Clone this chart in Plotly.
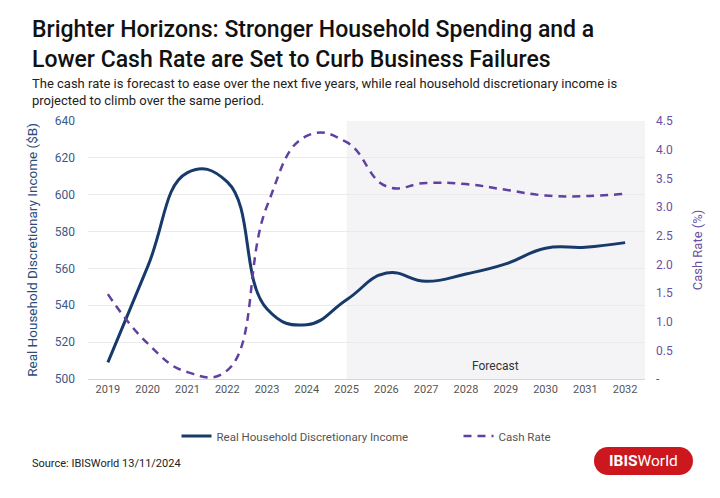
import plotly.graph_objects as go

years = [2019, 2020, 2021, 2022, 2023, 2024, 2025, 2026, 2027, 2028, 2029, 2030, 2031, 2032]
income = [509, 561, 612, 607, 538, 529.5, 543, 557.5, 553, 557, 562.5, 571, 571.5, 574]
cash_rate = [1.48, 0.62, 0.12, 0.15, 3.02, 4.24, 4.13, 3.36, 3.42, 3.4, 3.3, 3.2, 3.19, 3.23]
forecast_start = 2025
left_ticks = [500, 520, 540, 560, 580, 600, 620, 640]
right_ticks = [0, 0.5, 1.0, 1.5, 2.0, 2.5, 3.0, 3.5, 4.0, 4.5]
right_ticktext = ["-"] + [f"{v:.1f}" for v in right_ticks[1:]]

FONT = "Roboto"
NAVY = "#173a6b"
PURPLE = "#6040a0"

# The page body has an 8px margin; shift the figure geometry to compensate.
OFF = 8
FW, FH = 720 - OFF, 498 - OFF
# plot area in reference pixels
RL, RR, RT, RB = 88, 645, 121, 379
L, R, T, B = RL - OFF, RR - OFF, RT - OFF, RB - OFF
W, H = R - L, B - T
def px(xp): return (xp - RL) / W
def py(yp): return (RB - yp) / H

fig = go.Figure()
fig.add_trace(go.Scatter(
    x=years, y=income, name="Real Household Discretionary Income",
    mode="lines", line=dict(color=NAVY, width=3, shape="spline", smoothing=1.3),
    yaxis="y", legendwidth=237,
))
fig.add_trace(go.Scatter(
    x=years, y=cash_rate, name="Cash Rate",
    mode="lines", line=dict(color=PURPLE, width=2.5, dash="8px,6px", shape="spline", smoothing=1.3),
    yaxis="y2",
))

x_lo, x_hi = years[0] - 0.5, years[-1] + 0.5

fig.add_shape(type="rect", xref="x", yref="paper", x0=forecast_start, x1=x_hi, y0=0, y1=1,
              fillcolor="#f4f4f6", line=dict(width=0), layer="below")

# Logo (decorative)
red = "#cc171e"
lx0, lx1, ly0, ly1 = 594, 693, 447, 475
r = (ly1 - ly0) / 2
fig.add_shape(type="rect", xref="paper", yref="paper", x0=px(lx0 + r), x1=px(lx1 - r),
              y0=py(ly1), y1=py(ly0), fillcolor=red, line=dict(width=0))
fig.add_shape(type="circle", xref="paper", yref="paper", x0=px(lx0), x1=px(lx0 + 2 * r),
              y0=py(ly1), y1=py(ly0), fillcolor=red, line=dict(width=0))
fig.add_shape(type="circle", xref="paper", yref="paper", x0=px(lx1 - 2 * r), x1=px(lx1),
              y0=py(ly1), y1=py(ly0), fillcolor=red, line=dict(width=0))
fig.add_annotation(text="<b>IBIS</b>World", xref="paper", yref="paper",
                   x=px((lx0 + lx1) / 2), y=py((ly0 + ly1) / 2), showarrow=False,
                   font=dict(family=FONT, size=15.5, color="white"), xanchor="center", yanchor="middle")

fig.add_annotation(text="Forecast", xref="x", yref="paper", x=(forecast_start + x_hi) / 2, y=0,
                   yanchor="bottom", yshift=4, showarrow=False,
                   font=dict(family=FONT, size=12, color="#333333"))

fig.add_annotation(
    text="Brighter Horizons: Stronger Household Spending and a<br>Lower Cash Rate are Set to Curb Business Failures",
    xref="paper", yref="paper", x=px(30), y=py(14), xanchor="left", yanchor="top", align="left",
    showarrow=False, font=dict(family=FONT, size=23, color="#111111", weight=500))

fig.add_annotation(
    text="The cash rate is forecast to ease over the next five years, while real household discretionary income is<br>projected to climb over the same period.",
    xref="paper", yref="paper", x=px(30), y=py(74), xanchor="left", yanchor="top", align="left",
    showarrow=False, font=dict(family=FONT, size=13, color="#222222"))

fig.add_annotation(text="Source: IBISWorld 13/11/2024", xref="paper", yref="paper",
                   x=px(30), y=py(463), xanchor="left", yanchor="middle", showarrow=False,
                   font=dict(family=FONT, size=11, color="#222222"))

fig.update_layout(
    width=FW, height=FH,
    margin=dict(l=L, r=FW - R, t=T, b=FH - B, autoexpand=False),
    paper_bgcolor="white", plot_bgcolor="white",
    xaxis=dict(range=[x_lo, x_hi], tickvals=years, ticktext=[str(y) for y in years],
               showgrid=False, showline=True, linecolor="#d6d6d6", linewidth=1, automargin=False,
               tickfont=dict(family=FONT, size=11, color="#555555"), ticks="", zeroline=False),
    yaxis=dict(range=[500, 640], tickvals=left_ticks, showgrid=True, gridcolor="#ebebeb",
               zeroline=False, ticks="", ticklabelstandoff=12, automargin=False,
               tickfont=dict(family=FONT, size=12, color="#3b5a88"),
               title=dict(text="Real Household Discretionary Income ($B)", standoff=14,
                          font=dict(family=FONT, size=13.5, color="#2c4d7c"))),
    yaxis2=dict(range=[0, 4.5], tickvals=right_ticks, ticktext=right_ticktext, overlaying="y",
                side="right", showgrid=False, zeroline=False, ticks="", ticklabelstandoff=10,
                automargin=False,
                tickfont=dict(family=FONT, size=12, color="#6a50a4"),
                title=dict(text="Cash Rate (%)", standoff=20,
                           font=dict(family=FONT, size=13, color="#6a50a4"))),
    legend=dict(orientation="h", x=0.5, xanchor="center", y=py(436), yanchor="middle",
                font=dict(family=FONT, size=11.5, color="#555555")),
    showlegend=True,
)

fig.write_html("out.html")
